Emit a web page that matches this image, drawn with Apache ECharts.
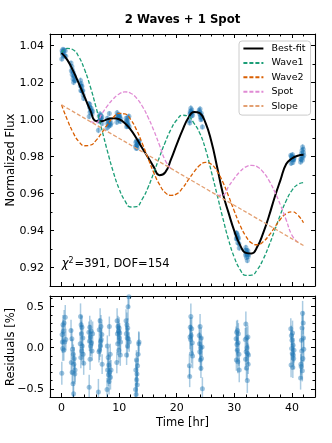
<!DOCTYPE html>
<html>
<head>
<meta charset="utf-8">
<script src="https://cdn.jsdelivr.net/npm/echarts@6/dist/echarts.min.js"></script>
<style>
  html, body { margin: 0; padding: 0; background: #fff; }
  #chart { width: 332px; height: 443px; }
</style>
</head>
<body>
<div id="chart"></div>
<script>
// observed light curve (time in hr, normalized flux, residual in %, error in %)
var time = [
  0.05, 0.10, 0.15, 0.20, 0.25, 0.30, 0.40, 0.45, 0.55, 0.65, 0.75,
  1.65, 1.70, 1.80, 1.85, 1.90, 2.00, 2.05, 2.10, 2.15, 2.20, 2.30, 2.35,
  3.25, 3.30, 3.35, 3.40, 3.45, 3.50, 3.55, 3.60, 3.70, 3.75, 3.85,
  4.75, 4.80, 4.85, 4.90, 4.95, 5.00, 5.05, 5.15, 5.20, 5.30, 5.40,
  6.40, 6.50, 6.55, 6.60, 6.70, 6.75, 6.80, 6.85, 6.90, 7.00, 7.05,
  7.90, 7.95, 8.00, 8.10, 8.15, 8.20, 8.25, 8.30, 8.35, 8.45, 8.50, 8.60,
  9.60, 9.65, 9.70, 9.75, 9.80, 9.90, 9.95, 10.00, 10.05, 10.10, 10.20, 10.25,
  11.20, 11.25, 11.30, 11.35, 11.40, 11.45, 11.50, 11.55, 11.60, 11.70, 11.75,
  12.85, 12.90, 12.95, 13.00, 13.05, 13.10, 13.15, 13.20, 13.30, 13.40, 13.45,
  22.20, 22.25, 22.30, 22.35, 22.40, 22.45, 22.50, 22.55, 22.60, 22.70, 22.75,
  23.90, 23.95, 24.00, 24.05, 24.10, 24.15, 24.20, 24.25, 24.30, 24.40, 24.45,
  30.30, 30.35, 30.40, 30.45, 30.50, 30.55, 30.60, 30.65, 30.70, 30.80, 30.85,
  31.90, 31.95, 32.00, 32.05, 32.10, 32.15, 32.20, 32.25, 32.30, 32.35, 32.40, 32.45,
  39.80, 39.85, 39.90, 39.95, 40.00, 40.05, 40.10, 40.15, 40.20, 40.25, 40.30, 40.35,
  41.50, 41.55, 41.60, 41.65, 41.70, 41.75, 41.80, 41.85, 41.90, 41.95, 42.00, 42.05
];
var flux = [
  1.0328, 1.0373, 1.0362, 1.0352, 1.0380, 1.0370, 1.0343, 1.0374, 1.0347, 1.0373, 1.0343,
  1.0306, 1.0264, 1.0288, 1.0244, 1.0269, 1.0221, 1.0254, 1.0202, 1.0235, 1.0238, 1.0212, 1.0213,
  1.0183, 1.0212, 1.0158, 1.0195, 1.0180, 1.0156, 1.0181, 1.0154, 1.0157, 1.0133, 1.0115,
  1.0087, 1.0017, 1.0069, 1.0082, 1.0040, 1.0063, 1.0049, 1.0062, 1.0045, 1.0030, 1.0045,
  0.9943, 0.9992, 1.0019, 0.9994, 1.0030, 0.9999, 1.0005, 1.0023, 1.0007, 1.0015, 0.9979,
  0.9955, 1.0008, 0.9979, 0.9994, 0.9973, 0.9985, 0.9966, 1.0033, 0.9977, 0.9999, 0.9971, 0.9980,
  0.9986, 1.0037, 1.0020, 1.0008, 1.0028, 1.0022, 0.9998, 1.0025, 1.0012, 1.0018, 0.9990, 1.0005,
  1.0007, 0.9989, 0.9962, 0.9997, 0.9979, 0.9967, 0.9987, 1.0012, 0.9971, 1.0019, 0.9962,
  0.9856, 0.9878, 0.9845, 0.9885, 0.9858, 0.9863, 0.9847, 0.9867, 0.9876, 0.9884, 0.9883,
  0.9994, 0.9982, 1.0032, 1.0046, 1.0032, 1.0062, 1.0041, 1.0020, 1.0052, 1.0038, 1.0024,
  1.0051, 1.0041, 1.0030, 1.0058, 1.0015, 1.0027, 0.9999, 1.0034, 1.0006, 1.0015, 0.9961,
  0.9386, 0.9356, 0.9387, 0.9368, 0.9357, 0.9377, 0.9335, 0.9355, 0.9362, 0.9329, 0.9306,
  0.9294, 0.9268, 0.9309, 0.9275, 0.9255, 0.9292, 0.9279, 0.9239, 0.9272, 0.9292, 0.9259, 0.9270,
  0.9807, 0.9765, 0.9802, 0.9788, 0.9799, 0.9784, 0.9810, 0.9768, 0.9796, 0.9785, 0.9782, 0.9792,
  0.9771, 0.9788, 0.9785, 0.9817, 0.9805, 0.9833, 0.9781, 0.9852, 0.9797, 0.9840, 0.9822, 0.9808
];
var resid = [
  -0.31, 0.16, 0.07, -0.01, 0.28, 0.20, -0.03, 0.30, 0.07, 0.37, 0.10,
  0.21, -0.18, 0.11, -0.30, -0.02, -0.44, -0.08, -0.56, -0.20, -0.13, -0.32, -0.27,
  0.05, 0.38, -0.12, 0.28, 0.17, -0.04, 0.25, 0.02, 0.12, -0.08, -0.19,
  0.19, -0.48, 0.08, 0.25, -0.14, 0.13, 0.02, 0.20, 0.06, -0.04, 0.17,
  -0.54, -0.05, 0.22, -0.03, 0.33, 0.02, 0.08, 0.26, 0.10, 0.16, -0.20,
  -0.51, 0.02, -0.27, -0.12, -0.33, -0.21, -0.41, 0.26, -0.30, -0.08, -0.36, -0.27,
  -0.18, 0.33, 0.17, 0.05, 0.26, 0.20, -0.03, 0.24, 0.12, 0.18, -0.09, 0.07,
  0.33, 0.17, -0.09, 0.28, 0.12, 0.02, 0.24, 0.50, 0.11, 0.62, 0.07,
  -0.51, -0.27, -0.57, -0.15, -0.39, -0.32, -0.45, -0.22, -0.08, 0.05, 0.07,
  -0.22, -0.35, 0.13, 0.25, 0.10, 0.38, 0.15, -0.07, 0.23, 0.06, -0.10,
  0.15, 0.05, -0.05, 0.26, -0.15, 0.00, -0.25, 0.12, -0.13, 0.01, -0.50,
  0.11, -0.15, 0.19, 0.04, -0.03, 0.21, -0.17, 0.06, 0.17, -0.08, -0.27,
  0.10, -0.14, 0.29, -0.05, -0.25, 0.12, 0.00, -0.40, -0.07, 0.13, -0.20, -0.09,
  0.23, -0.21, 0.15, -0.01, 0.09, -0.07, 0.18, -0.24, 0.03, -0.09, -0.13, -0.03,
  -0.37, -0.20, -0.23, 0.09, -0.04, 0.24, -0.28, 0.42, -0.13, 0.30, 0.12, -0.02
];
var residErr = [
  0.14, 0.12, 0.13, 0.15, 0.12, 0.14, 0.13, 0.16, 0.12, 0.15, 0.13,
  0.13, 0.15, 0.12, 0.14, 0.13, 0.16, 0.12, 0.15, 0.13, 0.14, 0.12, 0.15,
  0.14, 0.16, 0.13, 0.12, 0.15, 0.13, 0.14, 0.12, 0.15, 0.13, 0.14,
  0.13, 0.15, 0.12, 0.14, 0.13, 0.15, 0.12, 0.14, 0.13, 0.12, 0.15,
  0.16, 0.13, 0.14, 0.12, 0.15, 0.13, 0.12, 0.14, 0.13, 0.15, 0.12,
  0.14, 0.13, 0.15, 0.12, 0.14, 0.13, 0.16, 0.12, 0.14, 0.13, 0.15, 0.12,
  0.13, 0.15, 0.12, 0.14, 0.13, 0.12, 0.15, 0.13, 0.14, 0.12, 0.13, 0.15,
  0.14, 0.13, 0.12, 0.15, 0.13, 0.14, 0.12, 0.16, 0.13, 0.14, 0.12,
  0.15, 0.13, 0.14, 0.12, 0.15, 0.13, 0.14, 0.12, 0.13, 0.15, 0.12,
  0.14, 0.13, 0.15, 0.12, 0.14, 0.16, 0.13, 0.12, 0.14, 0.13, 0.15,
  0.13, 0.14, 0.12, 0.15, 0.13, 0.14, 0.12, 0.13, 0.15, 0.12, 0.14,
  0.15, 0.13, 0.14, 0.12, 0.15, 0.13, 0.14, 0.12, 0.13, 0.14, 0.15,
  0.14, 0.13, 0.15, 0.12, 0.14, 0.13, 0.12, 0.15, 0.13, 0.14, 0.12, 0.13,
  0.13, 0.15, 0.12, 0.14, 0.13, 0.12, 0.15, 0.13, 0.14, 0.12, 0.13, 0.15,
  0.14, 0.13, 0.15, 0.12, 0.14, 0.16, 0.13, 0.15, 0.12, 0.14, 0.13, 0.15
];

// model curves, sampled every hour
var modelTime = [0, 1, 2, 3, 4, 5, 6, 7, 8, 9, 10, 11, 12, 13, 14, 15, 16, 17, 18, 19, 20,
  21, 22, 23, 24, 25, 26, 27, 28, 29, 30, 31, 32, 33, 34, 35, 36, 37, 38, 39, 40, 41, 42];
var bestFit = [1.0361, 1.0323, 1.0265, 1.0196, 1.0123, 1.0050, 0.9993, 0.9992, 1.0003, 1.0008,
  1.0002, 0.9981, 0.9946, 0.9900, 0.9847, 0.9797, 0.9745, 0.9700, 0.9715, 0.9785,
  0.9866, 0.9944, 1.0009, 1.0042, 1.0035, 0.9982, 0.9883, 0.9746, 0.9602, 0.9496,
  0.9398, 0.9322, 0.9280, 0.9277, 0.9314, 0.9387, 0.9478, 0.9581, 0.9673, 0.9760,
  0.9790, 0.9805, 0.9810];
var wave1 = [1.0362, 1.0385, 1.0378, 1.0340, 1.0271, 1.0178, 1.0066, 0.9946, 0.9826, 0.9716,
  0.9626, 0.9562, 0.9528, 0.9530, 0.9570, 0.9632, 0.9712, 0.9797, 0.9878, 0.9948,
  0.9998, 1.0024, 1.0018, 0.9980, 0.9927, 0.9840, 0.9720, 0.9595, 0.9468, 0.9350,
  0.9255, 0.9190, 0.9158, 0.9160, 0.9190, 0.9245, 0.9318, 0.9402, 0.9487, 0.9562,
  0.9618, 0.9650, 0.9660];
var wave2 = [1.0080, 1.0000, 0.9931, 0.9882, 0.9859, 0.9862, 0.9888, 0.9930, 0.9975, 1.0013,
  1.0034, 1.0031, 1.0001, 0.9946, 0.9873, 0.9793, 0.9714, 0.9650, 0.9606, 0.9591,
  0.9599, 0.9630, 0.9674, 0.9718, 0.9753, 0.9769, 0.9759, 0.9722, 0.9663, 0.9587,
  0.9505, 0.9429, 0.9370, 0.9333, 0.9324, 0.9340, 0.9374, 0.9418, 0.9462, 0.9492,
  0.9502, 0.9485, 0.9443];
// spot only drawn where it leaves the slope line
var spot = ['-', '-', '-', '-', '-', 0.9990, 0.9984, 1.0031, 1.0076, 1.0113,
  1.0139, 1.0150, 1.0143, 1.0117, 1.0074, 1.0014, 0.9943, 0.9863, 0.9780, 0.9736,
  '-', '-', '-', '-', '-', '-', '-', 0.9591, 0.9592, 0.9639,
  0.9683, 0.9720, 0.9745, 0.9753, 0.9745, 0.9717, 0.9672, 0.9611, 0.9539, 0.9458,
  0.9375, 0.9338, '-'];
var slopeTime = [0, 42];
var slopeFlux = [1.0080, 0.9320];

// tick positions
var timeTicks = [0, 10, 20, 30, 40];
var timeMinor = [0, 2, 4, 6, 8, 10, 12, 14, 16, 18, 20, 22, 24, 26, 28, 30, 32, 34, 36, 38, 40, 42];
var fluxTicks = [0.92, 0.94, 0.96, 0.98, 1.00, 1.02, 1.04];
var fluxMinor = [0.92, 0.93, 0.94, 0.95, 0.96, 0.97, 0.98, 0.99, 1.00, 1.01, 1.02, 1.03, 1.04];
var residTicks = [-0.5, 0, 0.5];
var residMinor = [-0.5, -0.4, -0.3, -0.2, -0.1, 0, 0.1, 0.2, 0.3, 0.4, 0.5, 0.6];

var FONT = 'DejaVu Sans';
var TMIN = -2, TMAX = 44;
var FMIN = 0.9101, FMAX = 1.0463;
var RMIN = -0.6, RMAX = 0.63;

function pairs(xs, ys) {
    return xs.map(function (x, i) { return [x, ys[i]]; });
}

function tickAxis(grid, position, min, max, ticks, len, showLine, labels, fmt) {
    return {
        type: 'value', gridIndex: grid, position: position, min: min, max: max,
        axisLine: { show: showLine, onZero: false, lineStyle: { color: '#000', width: 1.1 } },
        axisTick: { show: true, inside: true, length: len, customValues: ticks,
            lineStyle: { color: '#000', width: 1 } },
        axisLabel: labels ? { show: true, customValues: labels, formatter: fmt, color: '#000',
            fontSize: 11, fontFamily: FONT, margin: 6 } : { show: false },
        splitLine: { show: false }
    };
}

function errorBars(lo, hi) {
    return function (params, api) {
        var x = api.value(0);
        var a = Math.max(api.value(1), lo), b = Math.min(api.value(2), hi);
        var p1 = api.coord([x, a]), p2 = api.coord([x, b]);
        return {
            type: 'line',
            shape: { x1: p1[0], y1: p1[1], x2: p2[0], y2: p2[1] },
            style: { stroke: 'rgba(31,119,180,0.38)', lineWidth: 1.5 }
        };
    };
}

var fmtTime = function (v) { return String(v); };
var fmtFlux = function (v) { return v.toFixed(2); };
var fmtResid = function (v) { return (v < 0 ? '\u2212' : '') + Math.abs(v).toFixed(1); };

var topErr = time.map(function (t, i) {
    return [t, flux[i] - residErr[i] / 100, flux[i] + residErr[i] / 100];
});
var botErr = time.map(function (t, i) {
    return [t, resid[i] - residErr[i], resid[i] + residErr[i]];
});

function model(name, data, color, width, dashed) {
    return {
        name: name, type: 'line', xAxisIndex: 0, yAxisIndex: 0,
        data: data, showSymbol: false, symbol: 'none', smooth: true,
        lineStyle: { color: color, width: width, type: dashed ? [4, 2] : 'solid' },
        itemStyle: { color: color }
    };
}

var chart = echarts.init(document.getElementById('chart'));

var option = {
    animation: false,
    grid: [
        { left: 50, top: 34, width: 265, height: 252 },
        { left: 50, top: 296, width: 265, height: 101 }
    ],
    xAxis: [
        tickAxis(0, 'bottom', TMIN, TMAX, timeTicks, 4, true),
        tickAxis(0, 'bottom', TMIN, TMAX, timeMinor, 2.5, false),
        tickAxis(0, 'top', TMIN, TMAX, timeTicks, 4, true),
        tickAxis(0, 'top', TMIN, TMAX, timeMinor, 2.5, false),
        tickAxis(1, 'bottom', TMIN, TMAX, timeTicks, 4, true, timeTicks, fmtTime),
        tickAxis(1, 'bottom', TMIN, TMAX, timeMinor, 2.5, false),
        tickAxis(1, 'top', TMIN, TMAX, timeTicks, 4, true),
        tickAxis(1, 'top', TMIN, TMAX, timeMinor, 2.5, false)
    ],
    yAxis: [
        tickAxis(0, 'left', FMIN, FMAX, fluxTicks, 4, true, fluxTicks, fmtFlux),
        tickAxis(0, 'left', FMIN, FMAX, fluxMinor, 2.5, false),
        tickAxis(0, 'right', FMIN, FMAX, fluxTicks, 4, true),
        tickAxis(0, 'right', FMIN, FMAX, fluxMinor, 2.5, false),
        tickAxis(1, 'left', RMIN, RMAX, residTicks, 4, true, residTicks, fmtResid),
        tickAxis(1, 'left', RMIN, RMAX, residMinor, 2.5, false),
        tickAxis(1, 'right', RMIN, RMAX, residTicks, 4, true),
        tickAxis(1, 'right', RMIN, RMAX, residMinor, 2.5, false)
    ],
    legend: {
        data: ['Best-fit', 'Wave1', 'Wave2', 'Spot', 'Slope'],
        orient: 'vertical', left: 239, top: 41,
        itemWidth: 20, itemHeight: 10, itemGap: 4.4,
        padding: [2.5, 5, 4, 3.4],
        backgroundColor: 'rgba(255,255,255,0.8)',
        borderColor: '#cccccc', borderWidth: 1, borderRadius: 3,
        selectedMode: false,
        // only the line sample, no marker
        itemStyle: { opacity: 0 },
        textStyle: { fontSize: 9.5, fontFamily: FONT, color: '#000', padding: [0, 0, 0, 3] }
    },
    graphic: [
        { type: 'text', x: 182.5, y: 20, style: { text: '2 Waves + 1 Spot', fontSize: 11.7,
            fontWeight: 'bold', fontFamily: FONT, fill: '#000', align: 'center', verticalAlign: 'middle' } },
        { type: 'text', x: 61.7, y: 264, style: {
            text: '{c|\u03c7}{s|2}{n|=391, DOF=154}', align: 'left', verticalAlign: 'middle',
            rich: {
                c: { fontSize: 11.5, fontStyle: 'italic', fontFamily: FONT, fill: '#000' },
                s: { fontSize: 8, fontFamily: FONT, fill: '#000', verticalAlign: 'top', padding: [0, 1, 6, 0] },
                n: { fontSize: 11.5, fontFamily: FONT, fill: '#000' }
            } } },
        { type: 'text', x: 11.5, y: 160, rotation: Math.PI / 2, style: { text: 'Normalized Flux',
            fontSize: 11.5, fontFamily: FONT, fill: '#000', align: 'center', verticalAlign: 'middle' } },
        { type: 'text', x: 11.5, y: 347, rotation: Math.PI / 2, style: { text: 'Residuals [%]',
            fontSize: 11.5, fontFamily: FONT, fill: '#000', align: 'center', verticalAlign: 'middle' } },
        { type: 'text', x: 182.5, y: 423.3, style: { text: 'Time [hr]',
            fontSize: 11.5, fontFamily: FONT, fill: '#000', align: 'center', verticalAlign: 'middle' } }
    ],
    series: [
        {
            type: 'custom', xAxisIndex: 0, yAxisIndex: 0, data: topErr,
            renderItem: errorBars(FMIN, FMAX), encode: { x: 0, y: [1, 2] }
        },
        model('Best-fit', pairs(modelTime, bestFit), '#000000', 2, false),
        {
            type: 'scatter', xAxisIndex: 0, yAxisIndex: 0, data: pairs(time, flux),
            symbolSize: 5, itemStyle: { color: 'rgba(31,119,180,0.55)' }
        },
        model('Wave1', pairs(modelTime, wave1), '#1b9e77', 1.3, true),
        model('Wave2', pairs(modelTime, wave2), '#d95f02', 1.3, true),
        model('Spot', pairs(modelTime, spot), '#e08ad4', 1.3, true),
        model('Slope', pairs(slopeTime, slopeFlux), '#e3a072', 1.3, true),
        {
            type: 'custom', xAxisIndex: 4, yAxisIndex: 4, data: botErr,
            renderItem: errorBars(RMIN, RMAX), encode: { x: 0, y: [1, 2] }
        },
        {
            type: 'scatter', xAxisIndex: 4, yAxisIndex: 4, data: pairs(time, resid),
            symbolSize: 5, itemStyle: { color: 'rgba(31,119,180,0.55)' }
        }
    ]
};

chart.setOption(option);
</script>
</body>
</html>
